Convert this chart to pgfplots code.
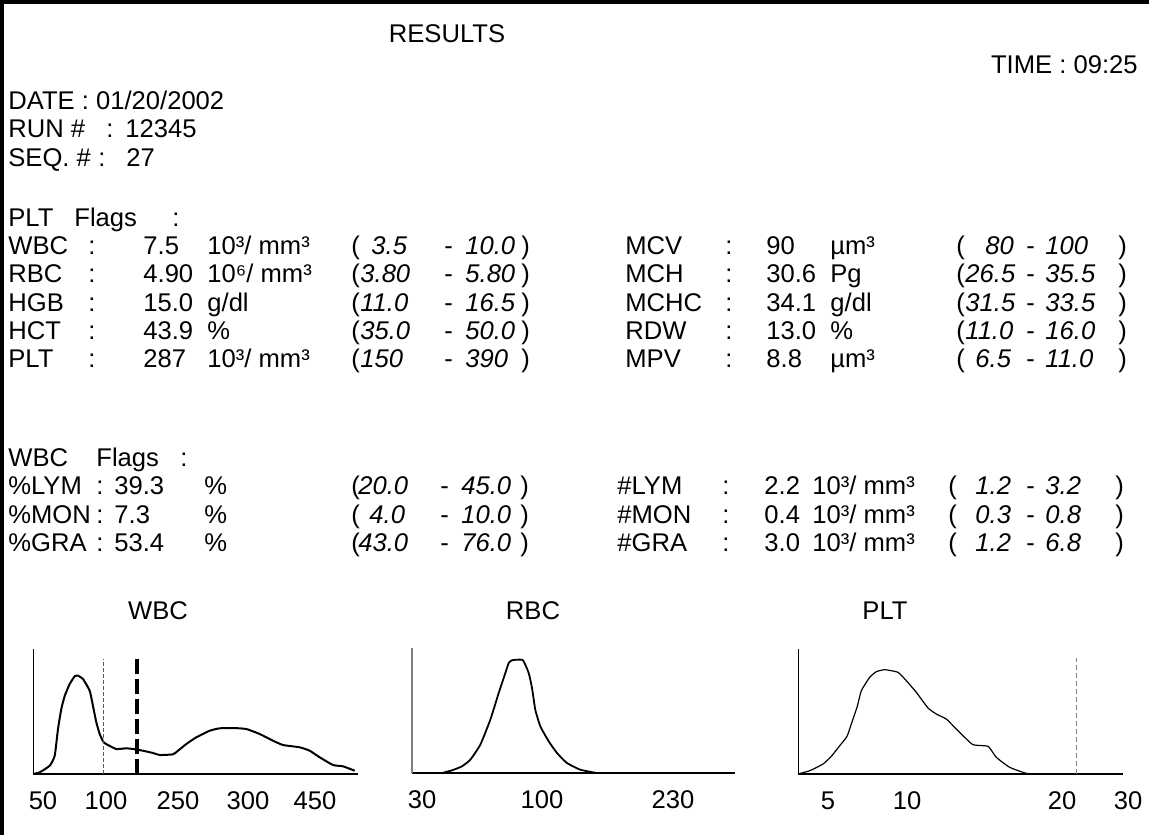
\documentclass[border=0pt]{standalone}
\usepackage{fontspec}
\setmainfont{Liberation Sans}
\usepackage{pgfplots}
\pgfplotsset{compat=1.18}
\pgfplotsset{hist/.style={anchor=south west, scale only axis, height=62.5pt,
  ymin=0, ymax=125, axis lines=left, axis line style={-}, ytick=\empty,
  major tick length=0pt, clip=false,
  x axis line style={line width=0.8pt, black},
  y axis line style={line width=0.5pt, black},
  xticklabel style={anchor=base, yshift=-17.5pt, inner sep=0pt}}}
\newcommand\T[3]{\node at (#1,#2) {#3};}
\begin{document}
\fontsize{12.8pt}{15pt}\selectfont
\begin{tikzpicture}
\useasboundingbox (0,0) rectangle (574.5pt,-417.5pt);
\begin{scope}[x=0.5pt,y=-0.5pt, every node/.style={anchor=base west, inner sep=0pt}]
\draw[line width=2pt] (2,835) -- (2,2) -- (1149,2);
\node[anchor=base] at (447,42) {RESULTS};
\node[anchor=base east] at (1138,73) {TIME : 09:25};
\T{8}{109}{DATE : 01/20/2002}
\T{8}{137}{RUN \#}\T{106}{137}{:}\T{125}{137}{12345}
\T{8}{166}{SEQ. \#}\T{98}{166}{:}\T{126}{166}{27}
\T{8}{226}{PLT}\T{74}{226}{Flags}\T{172}{226}{:}
% left table
\T{8}{254}{WBC}\T{88}{254}{:}\T{143}{254}{7.5}\T{207}{254}{10³/ mm³}
\T{351}{254}{(}\T{371}{254}{\itshape 3.5}\T{444}{254}{-}\T{465}{254}{\itshape 10.0}\T{521}{254}{)}
\T{8}{282}{RBC}\T{88}{282}{:}\T{143}{282}{4.90}\T{207}{282}{10⁶/ mm³}
\T{351}{282}{(}\T{360}{282}{\itshape 3.80}\T{444}{282}{-}\T{465}{282}{\itshape 5.80}\T{521}{282}{)}
\T{8}{311}{HGB}\T{88}{311}{:}\T{143}{311}{15.0}\T{207}{311}{g/dl}
\T{351}{311}{(}\T{360}{311}{\itshape 11.0}\T{444}{311}{-}\T{465}{311}{\itshape 16.5}\T{521}{311}{)}
\T{8}{339}{HCT}\T{88}{339}{:}\T{143}{339}{43.9}\T{207}{339}{\%}
\T{351}{339}{(}\T{360}{339}{\itshape 35.0}\T{444}{339}{-}\T{465}{339}{\itshape 50.0}\T{521}{339}{)}
\T{8}{367}{PLT}\T{88}{367}{:}\T{143}{367}{287}\T{207}{367}{10³/ mm³}
\T{351}{367}{(}\T{360}{367}{\itshape 150}\T{444}{367}{-}\T{465}{367}{\itshape 390}\T{521}{367}{)}
% right table
\T{625}{254}{MCV}\T{725}{254}{:}\T{766}{254}{90}\T{830}{254}{µm³}
\T{956}{254}{(}\T{985}{254}{\itshape 80}\T{1026}{254}{-}\T{1045}{254}{\itshape 100}\T{1118}{254}{)}
\T{625}{282}{MCH}\T{725}{282}{:}\T{766}{282}{30.6}\T{830}{282}{Pg}
\T{956}{282}{(}\T{965}{282}{\itshape 26.5}\T{1026}{282}{-}\T{1045}{282}{\itshape 35.5}\T{1118}{282}{)}
\T{625}{311}{MCHC}\T{725}{311}{:}\T{766}{311}{34.1}\T{830}{311}{g/dl}
\T{956}{311}{(}\T{965}{311}{\itshape 31.5}\T{1026}{311}{-}\T{1045}{311}{\itshape 33.5}\T{1118}{311}{)}
\T{625}{339}{RDW}\T{725}{339}{:}\T{766}{339}{13.0}\T{830}{339}{\%}
\T{956}{339}{(}\T{965}{339}{\itshape 11.0}\T{1026}{339}{-}\T{1045}{339}{\itshape 16.0}\T{1118}{339}{)}
\T{625}{367}{MPV}\T{725}{367}{:}\T{766}{367}{8.8}\T{830}{367}{µm³}
\T{956}{367}{(}\T{975}{367}{\itshape 6.5}\T{1026}{367}{-}\T{1045}{367}{\itshape 11.0}\T{1118}{367}{)}
% WBC flags
\T{8}{466}{WBC}\T{96}{466}{Flags}\T{180}{466}{:}
\T{8}{494}{\%LYM}\T{96}{494}{:}\T{114}{494}{39.3}\T{204}{494}{\%}
\T{351}{494}{(}\T{358}{494}{\itshape 20.0}\T{440}{494}{-}\T{461}{494}{\itshape 45.0}\T{520}{494}{)}
\T{8}{523}{\%MON}\T{96}{523}{:}\T{114}{523}{7.3}\T{204}{523}{\%}
\T{351}{523}{(}\T{369}{523}{\itshape 4.0}\T{440}{523}{-}\T{461}{523}{\itshape 10.0}\T{520}{523}{)}
\T{8}{551}{\%GRA}\T{96}{551}{:}\T{114}{551}{53.4}\T{204}{551}{\%}
\T{351}{551}{(}\T{358}{551}{\itshape 43.0}\T{440}{551}{-}\T{461}{551}{\itshape 76.0}\T{520}{551}{)}
\T{617}{494}{\#LYM}\T{722}{494}{:}\T{764}{494}{2.2}\T{812}{494}{10³/ mm³}
\T{948}{494}{(}\T{975}{494}{\itshape 1.2}\T{1026}{494}{-}\T{1045}{494}{\itshape 3.2}\T{1115}{494}{)}
\T{617}{523}{\#MON}\T{722}{523}{:}\T{764}{523}{0.4}\T{812}{523}{10³/ mm³}
\T{948}{523}{(}\T{975}{523}{\itshape 0.3}\T{1026}{523}{-}\T{1045}{523}{\itshape 0.8}\T{1115}{523}{)}
\T{617}{551}{\#GRA}\T{722}{551}{:}\T{764}{551}{3.0}\T{812}{551}{10³/ mm³}
\T{948}{551}{(}\T{975}{551}{\itshape 1.2}\T{1026}{551}{-}\T{1045}{551}{\itshape 6.8}\T{1115}{551}{)}
% histogram titles
\node[anchor=base] at (158,619) {WBC};
\node[anchor=base] at (533,619) {RBC};
\node[anchor=base] at (885,619) {PLT};
\end{scope}
% WBC histogram
\begin{axis}[hist, at={(16.5pt,-387pt)}, width=162.5pt, xmin=0, xmax=325,
  xtick={10,73,145,215,282}, xticklabels={50,100,250,300,450}]
\addplot[black, line width=1pt, smooth, tension=0.3] coordinates {
(0,0) (6.7,1.7) (16.7,8.3) (21.7,18.3) (25,45) (28.3,65) (31.7,78) (36.7,90)
(41.7,97.7) (45,98.3) (50,95) (56.7,83.3) (60,68) (63.3,51.7) (66.7,40)
(70.7,31.7) (75,29) (83.3,25) (93.3,25.7) (100,25) (110,23.3) (120,21)
(126.7,19) (140,19.7) (145,23.3) (153.3,30) (163.3,36.7) (176.7,43.3)
(186.7,45.7) (200,46) (213.3,45) (226.7,40) (240,33.3) (250,29) (266.7,26.7)
(276.7,23.3) (286.7,16.7) (300,9) (310,7.7) (321.7,3.3)};
\addplot[gray!70!black, line width=0.4pt, dash pattern=on 2pt off 1pt] coordinates {(70,0) (70,115)};
\addplot[black, line width=2pt, dash pattern=on 7.5pt off 2.5pt] coordinates {(104.3,0) (104.3,115)};
\end{axis}
% RBC histogram
\begin{axis}[hist, at={(206pt,-386.5pt)}, width=161.5pt, xmin=0, xmax=323,
  y axis line style={line width=1pt, gray},
  xtick={10,130,261}, xticklabels={30,100,230}]
\addplot[black, line width=0.9pt, smooth, tension=0.3] coordinates {
(30,0) (40,2.7) (50,6.7) (58.3,13.3) (68.3,28.3) (78.3,53.3) (86.7,80)
(91.7,95) (96.7,110) (100,112.7) (105,113.3) (111,112.7) (116.7,100)
(120,85) (123.3,63.3) (128.3,46.7) (136.7,31.7) (145,20) (155,10)
(168.3,3.3) (185,0)};
\end{axis}
% PLT histogram
\begin{axis}[hist, at={(399pt,-387pt)}, width=162.5pt, xmin=0, xmax=325,
  xtick={30,109,264,325}, xticklabels={5,10,20,\hspace*{5pt}30}]
\addplot[black, line width=0.6pt, smooth, tension=0.3] coordinates {
(0,0) (11.7,3.3) (25,10) (33.3,17.7) (41.7,28.3) (49,37.7) (55,55)
(59.3,67.7) (63.3,83.3) (71.7,96.7) (78.3,102.3) (86.7,104.3) (100,101.7)
(108.3,93.3) (118.3,81.7) (130,66) (138.3,60) (148.3,55) (155,48.3)
(163.3,40) (175,29.3) (190,27.7) (198.3,16.7) (211.7,6.7) (228.3,0.7)
(241.7,0.3) (255,0)};
\addplot[gray, line width=0.8pt, dash pattern=on 2.5pt off 1.5pt] coordinates {(278.3,0) (278.3,115.7)};
\end{axis}
\end{tikzpicture}
\end{document}
